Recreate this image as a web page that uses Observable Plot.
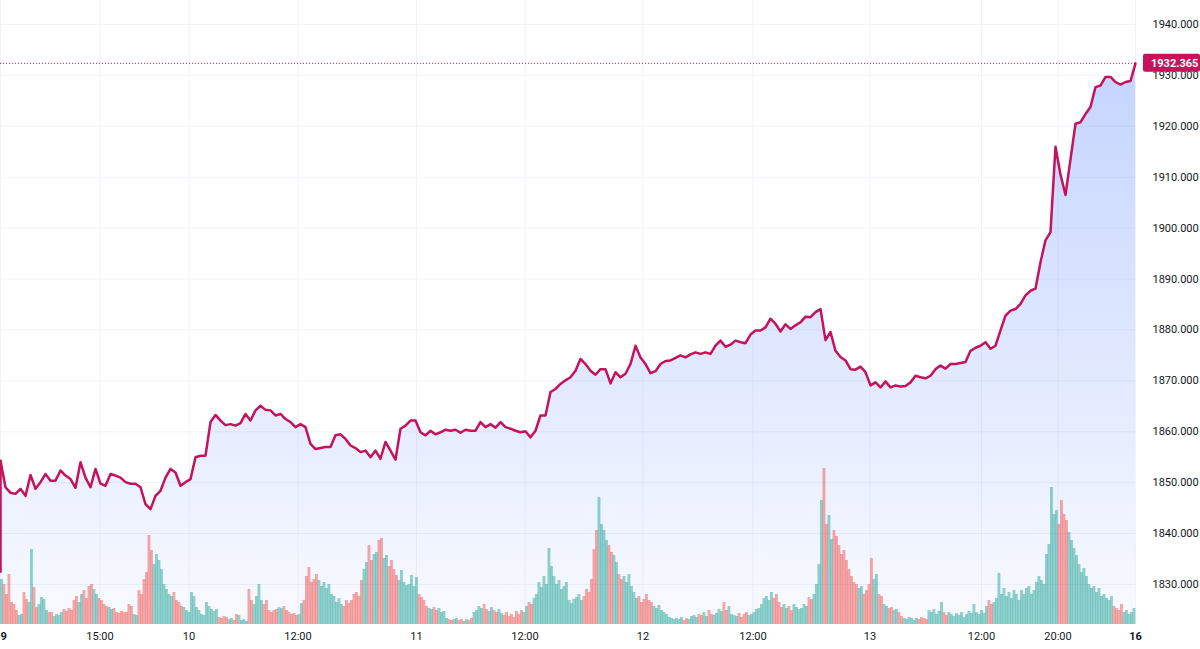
<!DOCTYPE html>
<html><head><meta charset="utf-8">
<script src="https://cdn.jsdelivr.net/npm/d3@7"></script>
<script src="https://cdn.jsdelivr.net/npm/@observablehq/plot@0.6"></script>
<style>
html,body{margin:0;padding:0;background:#fff;overflow:hidden}
#chart{width:1200px;height:649px}
#chart svg{display:block}
</style></head><body><div id="chart"></div>
<script>
// ---- data ----
const prevClose = 1832.2;
const prices = [
1854.3,1849.1,1848.0,1847.8,1848.8,1847.4,1851.5,1848.8,1850.1,1851.7,
1850.4,1850.4,1852.4,1851.4,1850.7,1849.0,1854.0,1851.0,1849.1,1852.7,
1849.8,1849.4,1851.7,1851.4,1851.0,1850.1,1849.8,1849.8,1849.1,1845.8,
1844.8,1847.4,1848.4,1851.0,1852.7,1852.0,1849.4,1850.1,1850.7,1855.0,
1855.3,1855.3,1861.9,1863.3,1862.2,1861.3,1861.5,1861.2,1861.7,1863.5,
1862.2,1864.2,1865.1,1864.3,1864.2,1863.2,1863.5,1862.5,1861.9,1860.9,
1861.5,1860.9,1857.6,1856.6,1856.8,1857.0,1857.0,1859.3,1859.5,1858.6,
1857.3,1856.8,1856.0,1856.3,1855.0,1856.3,1854.7,1858.0,1856.3,1854.5,
1860.6,1861.2,1862.2,1862.2,1859.9,1859.3,1860.2,1859.5,1859.9,1860.4,
1860.2,1860.4,1859.8,1860.4,1860.2,1860.2,1861.9,1860.9,1861.5,1860.8,
1861.9,1860.9,1860.6,1860.2,1859.9,1860.1,1858.9,1860.2,1863.2,1863.2,
1867.8,1868.4,1869.4,1870.1,1870.7,1872.0,1874.3,1873.3,1872.0,1871.2,
1872.3,1872.3,1869.5,1871.7,1870.7,1871.4,1873.3,1876.9,1874.6,1873.3,
1871.5,1871.9,1873.3,1873.9,1874.0,1874.5,1875.0,1874.6,1875.2,1875.6,
1875.3,1875.6,1875.3,1876.9,1877.9,1876.7,1877.1,1877.9,1877.6,1877.4,
1879.1,1879.9,1879.9,1880.5,1882.2,1881.2,1879.7,1881.1,1880.2,1880.9,
1881.5,1882.6,1882.5,1883.5,1884.1,1878.0,1879.6,1875.9,1874.7,1874.0,
1872.3,1872.2,1872.8,1871.7,1869.1,1869.7,1868.7,1869.9,1868.7,1869.1,
1868.9,1869.0,1869.7,1871.0,1870.7,1870.5,1871.0,1872.3,1873.0,1872.4,
1873.3,1873.3,1873.5,1873.7,1875.9,1876.5,1876.9,1877.6,1876.3,1876.9,
1879.9,1882.8,1883.8,1884.1,1885.1,1886.8,1887.7,1888.1,1893.3,1897.6,
1899.2,1916.0,1910.5,1906.5,1913.5,1920.5,1920.8,1922.4,1923.8,1927.7,
1928.0,1929.7,1929.7,1928.7,1928.2,1928.7,1928.9,1932.365
];
const volumes = [
45,40,30,50,22,20,14,9,10,32,
25,22,75,37,17,20,27,25,14,12,
12,8,10,9,12,15,13,16,14,24,
28,22,30,34,26,38,40,35,30,26,
24,20,18,17,15,16,12,11,13,12,
12,20,18,10,9,34,30,45,52,89,
74,60,70,64,55,40,35,30,28,32,
24,22,18,17,14,12,32,28,17,14,
10,9,22,18,15,13,15,7,6,8,
7,5,6,4,10,9,4,5,3,35,
24,20,28,40,24,20,24,14,12,14,
15,17,16,18,14,12,10,11,9,10,
21,24,48,57,42,45,50,44,38,42,
36,40,30,28,22,26,20,18,24,21,
24,30,32,28,44,55,62,79,64,70,
72,84,86,66,69,58,64,55,49,44,
54,42,39,40,49,38,47,30,27,24,
18,16,15,17,14,16,12,13,6,5,
4,5,6,4,5,3,5,4,6,12,
14,18,16,20,15,13,17,14,12,15,
11,9,12,8,10,7,13,10,14,12,
18,22,20,26,30,42,37,48,40,76,
58,48,40,44,35,38,42,24,21,25,
27,30,24,28,35,32,45,75,94,127,
100,94,84,79,72,69,62,50,45,48,
42,50,38,32,26,28,22,25,30,24,
22,18,16,19,14,12,10,7,6,5,
6,5,7,4,6,5,8,9,7,10,
9,12,8,14,10,9,11,15,13,22,
14,18,10,9,8,11,7,10,12,9,
10,12,15,16,20,26,28,24,32,26,
30,22,17,20,16,18,14,20,17,15,
16,20,18,27,25,30,40,60,124,156,
100,109,85,94,88,79,70,74,64,55,
48,42,40,36,38,30,34,40,66,45,
50,30,28,20,18,16,17,14,15,12,
8,6,5,7,6,4,6,5,7,6,
5,14,12,15,10,13,22,12,9,12,
10,8,11,9,12,7,10,13,11,20,
12,10,14,11,18,24,20,22,26,51,
30,36,28,32,26,34,30,24,34,30,
36,38,30,34,42,48,44,40,70,80,
137,110,114,100,124,110,104,92,84,76,
69,60,52,56,48,40,36,38,32,36,
28,30,26,24,28,18,16,14,20,12,
14,10,12,16
];
const yTicks = [1830,1840,1850,1860,1870,1880,1890,1900,1910,1920,1930,1940];
const xTickPos = [0, 19.9, 37.7, 59.5, 83.2, 104.9, 128.5, 150.5, 173.9, 196.2, 211.5, 227];
const xTickLabels = ["9","15:00","10","12:00","11","12:00","12","12:00","13","12:00","20:00","16"];
const xTickBold = [true,false,false,false,false,false,false,false,false,false,false,true];

// ---- derived ----
const lastPrice = prices[prices.length - 1];
const yDomain = [1822.14, 1944.71];
const volScale = d3.scaleLinear([0, 624], yDomain);
const volData = volumes.map((v, j) => {
  const k = Math.min(prices.length - 1, Math.round(j / 2));
  const prev = k === 0 ? prevClose : prices[k - 1];
  return {j, v, up: prices[k] >= prev};
});
const xTicks = xTickPos.map((p, i) => ({p, label: xTickLabels[i], bold: xTickBold[i], first: i === 0}));

const lineColor = "#c5135a";
const upColor = "#26a69a", downColor = "#ef5350";
const gridColor = "#f0f3fa";
const textColor = "#131722";

function gradientDefs(index, scales, values, dim) {
  const defs = d3.create("svg:defs");
  const g = defs.append("linearGradient").attr("id", "areaGrad")
    .attr("gradientUnits", "userSpaceOnUse")
    .attr("x1", 0).attr("x2", 0).attr("y1", 0).attr("y2", dim.height - dim.marginBottom);
  g.append("stop").attr("offset", 0).attr("stop-color", "rgb(41,98,255)").attr("stop-opacity", 0.30);
  g.append("stop").attr("offset", 1).attr("stop-color", "rgb(41,98,255)").attr("stop-opacity", 0.03);
  return defs.node();
}

function priceLabel(index, scales, values, dim) {
  const y = scales.y(lastPrice);
  const x0 = dim.width - dim.marginRight + 8;
  const g = d3.create("svg:g");
  g.append("rect").attr("x", x0).attr("y", y - 9).attr("width", dim.width - x0).attr("height", 18)
    .attr("fill", lineColor).attr("rx", 2);
  g.append("text").attr("x", dim.width - dim.marginRight + 16).attr("y", y).attr("dy", "0.35em")
    .attr("text-anchor", "start")
    .attr("fill", "#fff").attr("font-weight", "bold").attr("font-size", 11).text(lastPrice.toFixed(3));
  return g.node();
}

const chart = Plot.plot({
  width: 1200,
  height: 649,
  marginLeft: 0,
  marginRight: 65,
  marginTop: 0,
  marginBottom: 25,
  style: {fontFamily: "Roboto, 'Noto Sans', sans-serif", fontSize: "11px", color: textColor, background: "#fff", overflow: "hidden"},
  x: {domain: [0, prices.length - 1], axis: null},
  y: {domain: yDomain, axis: null},
  marks: [
    gradientDefs,
    Plot.ruleY(yTicks, {stroke: gridColor, strokeWidth: 1}),
    Plot.ruleX(xTickPos, {stroke: gridColor, strokeWidth: 1}),
    Plot.areaY(prices, {x: (d, i) => i, y1: yDomain[0], y2: d => d, fill: "url(#areaGrad)"}),
    Plot.rectY(volData.filter(d => d.up), {x1: d => d.j / 2, x2: d => d.j / 2 + 0.5, y1: yDomain[0], y2: d => volScale(d.v), fill: upColor, fillOpacity: 0.5, insetRight: -0.4}),
    Plot.rectY(volData.filter(d => !d.up), {x1: d => d.j / 2, x2: d => d.j / 2 + 0.5, y1: yDomain[0], y2: d => volScale(d.v), fill: downColor, fillOpacity: 0.5, insetRight: -0.4}),
    Plot.ruleY([lastPrice], {stroke: lineColor, strokeWidth: 1, strokeDasharray: "1,2"}),
    Plot.ruleX([0], {y1: prevClose, y2: prices[0], stroke: lineColor, strokeWidth: 2.5}),
    Plot.lineY(prices, {x: (d, i) => i, y: d => d, stroke: lineColor, strokeWidth: 2.5, strokeLinejoin: "round", strokeLinecap: "round"}),
    Plot.axisY(yTicks, {anchor: "right", tickSize: 0, tickPadding: 17, tickFormat: d => d.toFixed(3), fontSize: 11}),
    Plot.text(xTicks.filter(d => !d.bold), {x: "p", text: "label", frameAnchor: "bottom", dy: 12, lineAnchor: "middle", fill: textColor, fontSize: 11}),
    Plot.text(xTicks.filter(d => d.bold && !d.first), {x: "p", text: "label", frameAnchor: "bottom", dy: 12, lineAnchor: "middle", fill: textColor, fontSize: 11, fontWeight: "bold"}),
    Plot.text(xTicks.filter(d => d.first), {x: "p", text: "label", frameAnchor: "bottom", dy: 12, lineAnchor: "middle", fill: textColor, fontSize: 11, fontWeight: "bold", textAnchor: "start"}),
    priceLabel
  ]
});
document.getElementById("chart").appendChild(chart);
</script>
</body></html>
